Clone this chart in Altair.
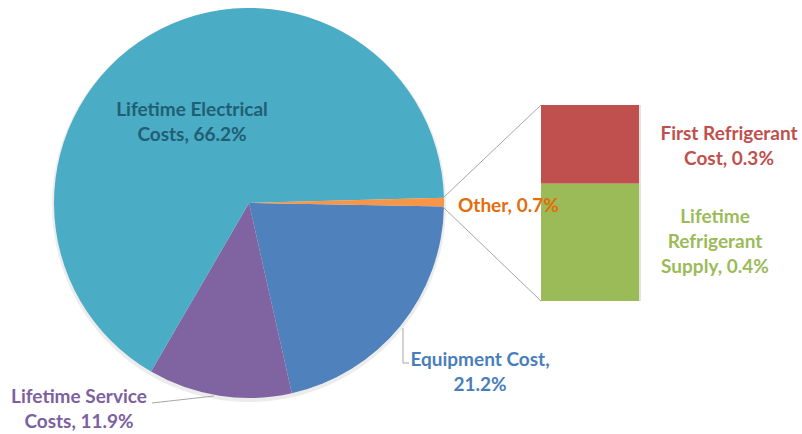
import math
import altair as alt
import pandas as pd

# ---- data ----
pie_names = ["Equipment Cost", "Lifetime Service Costs", "Lifetime Electrical Costs", "Other"]
pie_values = [21.2, 11.9, 66.2, 0.7]
pie_colors = ["#4F81BD", "#8064A2", "#4BACC6", "#F79646"]

bar_names = ["Lifetime Refrigerant Supply", "First Refrigerant Cost"]
bar_values = [0.42, 0.28]
bar_colors = ["#9BBB59", "#C0504D"]

FONT = "Lato"
FS = 19

pie_df = pd.DataFrame({"name": pie_names, "value": pie_values, "order": range(len(pie_names))})
start = [0.0]
for v in bar_values[:-1]:
    start.append(start[-1] + v)
bar_df = pd.DataFrame({"name": bar_names, "value": bar_values, "start": start,
                       "end": [s + v for s, v in zip(start, bar_values)]})

CX, CY, R = 249, 203, 195
off = math.radians(91)

shadow = alt.Chart(pd.DataFrame({"v": [1]})).mark_arc(
    outerRadius=R + 2, color="#c8c8c8", opacity=0.35
).encode(x=alt.value(CX), y=alt.value(CY + 2), theta=alt.value(2 * math.pi))

pie = alt.Chart(pie_df).mark_arc(outerRadius=R, stroke=None).encode(
    theta=alt.Theta("value:Q", stack=True, scale=alt.Scale(range=[off, off + 2 * math.pi])),
    color=alt.Color("name:N", scale=alt.Scale(domain=pie_names, range=pie_colors), legend=None),
    order=alt.Order("order:Q"),
    x=alt.value(CX), y=alt.value(CY),
)

bar_shadow = alt.Chart(bar_df).mark_rect(color="#d0d0d0", opacity=0.6).encode(
    y=alt.Y("start:Q", scale=alt.Scale(domain=[0, sum(bar_values)], range=[301, 105]), axis=None),
    y2="end:Q", x=alt.value(543), x2=alt.value(641),
)
bar = alt.Chart(bar_df).mark_rect().encode(
    y=alt.Y("start:Q", scale=alt.Scale(domain=[0, sum(bar_values)], range=[301, 105]), axis=None),
    y2="end:Q",
    x=alt.value(541), x2=alt.value(639),
    fill=alt.Fill("name:N", scale=alt.Scale(domain=bar_names, range=bar_colors), legend=None),
)

def rule(x1, y1, x2, y2):
    return alt.Chart(pd.DataFrame({"v": [1]})).mark_rule(color="#a6a6a6", strokeWidth=1).encode(
        x=alt.value(x1), y=alt.value(y1), x2=alt.value(x2), y2=alt.value(y2))

rules = [
    rule(443, 198, 541, 105),
    rule(443, 207, 541, 301),
    rule(403, 328, 403, 363),
    rule(403, 363, 409, 363),
    rule(214, 396, 152, 403),
]

def label(lines, x, y, color, align="center"):
    df = pd.DataFrame({"t": ["\n".join(lines)]})
    return alt.Chart(df).mark_text(
        font=FONT, fontSize=FS, fontWeight="bold", color=color, align=align,
        baseline="alphabetic", lineBreak="\n", lineHeight=25,
    ).encode(text="t:N", x=alt.value(x), y=alt.value(y))

def pct(v):
    return f"{v:.1f}%"

labels = [
    label(["Lifetime Electrical", f"Costs, {pct(pie_values[2])}"], 192, 116, "#1F5F73"),
    label([f"Other, {pct(pie_values[3])}"], 458, 212, "#E46C0A", "left"),
    label(["Equipment Cost,", pct(pie_values[0])], 480, 366, "#4A7EBB"),
    label(["Lifetime Service", f"Costs, {pct(pie_values[1])}"], 79, 403, "#7D60A0"),
    label(["First Refrigerant", f"Cost, {pct(bar_values[1])}"], 729, 140, "#C0504D"),
    label(["Lifetime", "Refrigerant", f"Supply, {pct(bar_values[0])}"], 715, 223, "#9BBB59"),
]

chart = alt.layer(shadow, pie, bar_shadow, bar, *rules, *labels).properties(
    width=802, height=434, padding=0, autosize=alt.AutoSizeParams(type="none"),
    background="white",
).configure_view(stroke=None).resolve_scale(color="independent")

chart.save("out.html", embed_options={"renderer": "svg", "actions": False})
